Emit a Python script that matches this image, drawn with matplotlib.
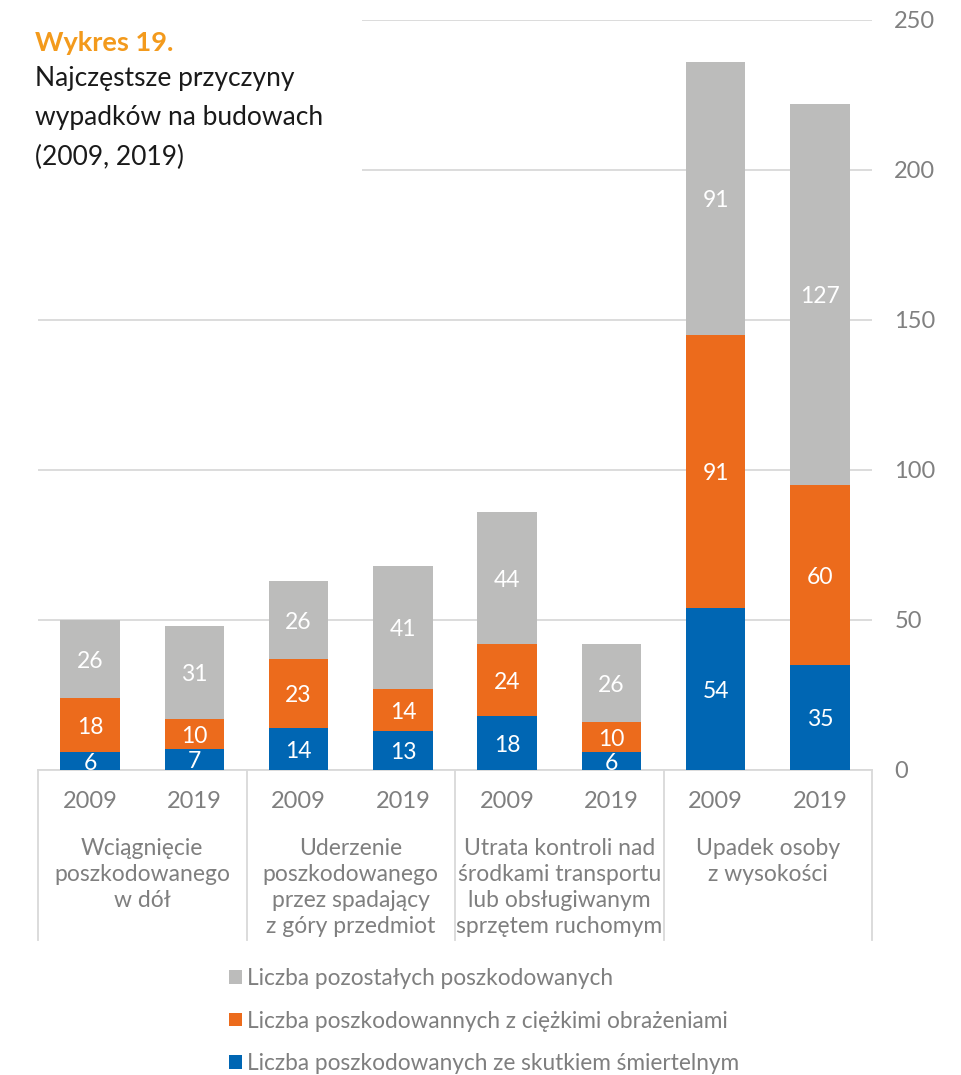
import matplotlib
matplotlib.use("Agg")
import matplotlib.pyplot as plt
from matplotlib.patches import Rectangle
import numpy as np

plt.rcParams['font.family'] = ['Lato', 'DejaVu Sans']

years = ["2009", "2019", "2009", "2019", "2009", "2019", "2009", "2019"]
groups = ["Wciągnięcie\nposzkodowanego\nw dół",
          "Uderzenie\nposzkodowanego\nprzez spadający\nz góry przedmiot",
          "Utrata kontroli nad\nśrodkami transportu\nlub obsługiwanym\nsprzętem ruchomym",
          "Upadek osoby\nz wysokości"]
fatal = [6, 7, 14, 13, 18, 6, 54, 35]
severe = [18, 10, 23, 14, 24, 10, 91, 60]
other = [26, 31, 26, 41, 44, 26, 91, 127]
series_labels = ["Liczba poszkodowanych ze skutkiem śmiertelnym",
                 "Liczba poszkodowannych z ciężkimi obrażeniami",
                 "Liczba pozostałych poszkodowanych"]
colors = ["#0066B3", "#EC6B1C", "#BCBCBB"]
yticks = [0, 50, 100, 150, 200, 250]

W, H = 962, 1075
fig = plt.figure(figsize=(W/100, H/100), dpi=100)
ax = fig.add_axes([38/W, 1-770/H, (872-38)/W, 750/H])

x = np.arange(len(years))
bw = 0.57
bottom = np.zeros(len(years))
handles = []
for vals, col, lab in zip([fatal, severe, other], colors, series_labels):
    bars = ax.bar(x, vals, bw, bottom=bottom, color=col, label=lab, zorder=3)
    handles.append(bars)
    for xi, b, v in zip(x, bottom, vals):
        ax.text(xi, b + v/2 - 0.8, str(v), ha='center', va='center', color='white',
                fontsize=16.5, zorder=4)
    bottom = bottom + np.array(vals)

ax.set_xlim(-0.5, 7.5)
ax.set_ylim(0, 250)
ax.set_yticks(yticks)
ax.yaxis.tick_right()
ax.tick_params(axis='y', length=0, labelsize=17, labelcolor='#808080')
for lbl in ax.get_yticklabels():
    lbl.set_horizontalalignment('left')
ax.tick_params(axis='y', pad=16)
ax.grid(axis='y', color='#D9D9D9', linewidth=1.3, zorder=0)
ax.set_axisbelow(True)
for s in ['top', 'right', 'left']:
    ax.spines[s].set_visible(False)
ax.spines['bottom'].set_color('#D9D9D9')
ax.spines['bottom'].set_linewidth(1.3)
ax.set_xticks([])

trans = ax.get_xaxis_transform()
for sx in [-0.5, 1.5, 3.5, 5.5, 7.5]:
    ax.plot([sx, sx], [0, -170/750], transform=trans, color='#D9D9D9',
            linewidth=1.3, clip_on=False)
for xi, yr in zip(x, years):
    ax.text(xi, -32/750, yr, transform=trans, ha='center', va='center',
            fontsize=17, color='#7F7F7F')
for gi, g in enumerate(groups):
    ax.text(2*gi + 0.5, -68/750, g, transform=trans, ha='center', va='top',
            fontsize=16.5, color='#7F7F7F', linespacing=1.29)

# white box behind title covering gridlines
fig.patches.append(Rectangle((38/W, 1-190/H), (362-38)/W, 190/H,
                             transform=fig.transFigure, facecolor='white',
                             edgecolor='none', zorder=5))
fig.text(35/W, 1-43/H, "Wykres 19.", fontsize=19.5, fontweight='bold',
         color='#F39A1C', ha='left', va='center', zorder=6)
fig.text(35/W, 1-66/H, "Najczęstsze przyczyny\nwypadków na budowach\n(2009, 2019)",
         fontsize=19, color='#1A1A1A', ha='left', va='top', linespacing=1.72, zorder=6)

leg = fig.legend(handles[::-1], series_labels[::-1], loc='upper left',
                 bbox_to_anchor=(220/W, 1-959/H), frameon=False, fontsize=16.3,
                 handlelength=0.55, handleheight=0.55, handletextpad=0.25,
                 labelspacing=0.95, borderaxespad=0)
for t in leg.get_texts():
    t.set_color('#7F7F7F')

fig.savefig("out.png", dpi=100)
